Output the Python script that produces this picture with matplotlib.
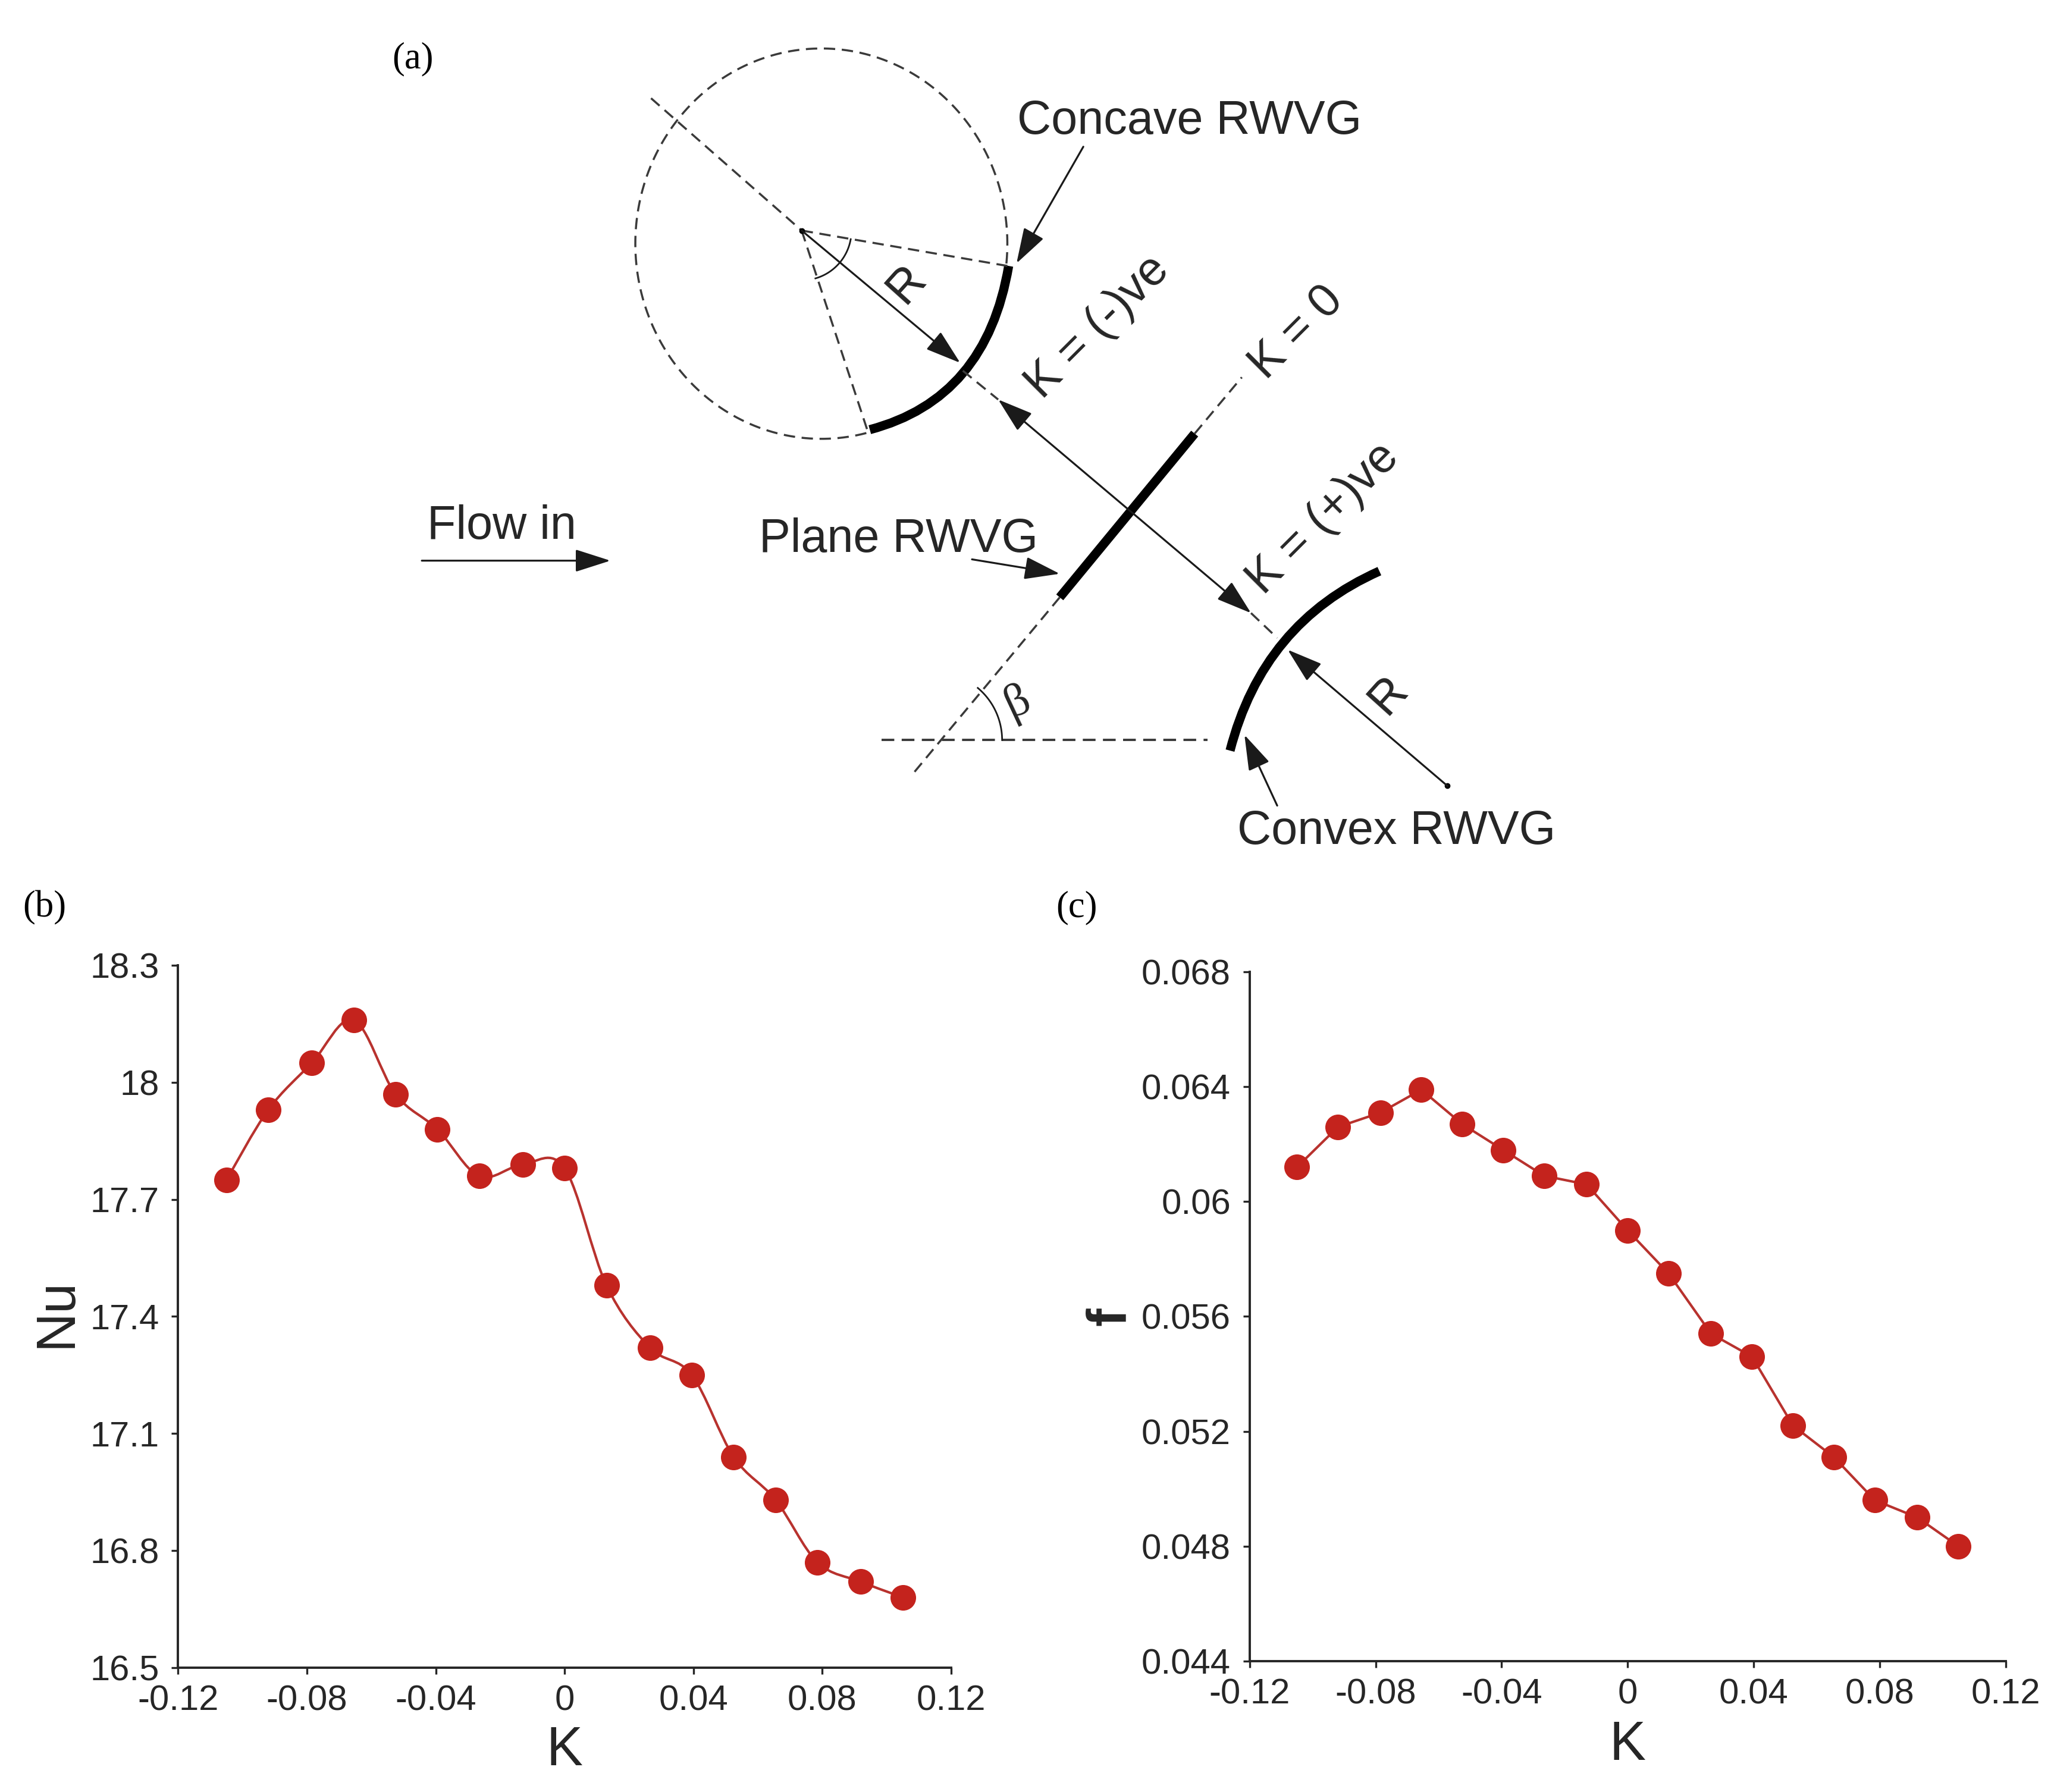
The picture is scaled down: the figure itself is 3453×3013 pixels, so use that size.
import numpy as np
import matplotlib
matplotlib.use("Agg")
from matplotlib import pyplot as plt
from matplotlib.path import Path
from matplotlib.patches import PathPatch

plt.rcParams['font.family'] = ['Liberation Sans', 'DejaVu Sans']

k_values = [-0.105, -0.092, -0.0785, -0.0655, -0.0525, -0.0395, -0.0265, -0.013, 0,
            0.013, 0.0265, 0.0395, 0.0525, 0.0655, 0.0785, 0.092, 0.105]
nu_values = [17.75, 17.93, 18.05, 18.16, 17.97, 17.88, 17.76, 17.79, 17.78,
             17.48, 17.32, 17.25, 17.04, 16.93, 16.77, 16.72, 16.68]
f_values = [0.0612, 0.0626, 0.0631, 0.0639, 0.0627, 0.0618, 0.0609, 0.0606, 0.0590,
            0.0575, 0.0554, 0.0546, 0.0522, 0.0511, 0.0496, 0.0490, 0.0480]
k_ticks = [-0.12, -0.08, -0.04, 0, 0.04, 0.08, 0.12]
k_labels = ["-0.12", "-0.08", "-0.04", "0", "0.04", "0.08", "0.12"]
nu_ticks = [16.5, 16.8, 17.1, 17.4, 17.7, 18, 18.3]
nu_labels = ["16.5", "16.8", "17.1", "17.4", "17.7", "18", "18.3"]
f_ticks = [0.044, 0.048, 0.052, 0.056, 0.06, 0.064, 0.068]
f_labels = ["0.044", "0.048", "0.052", "0.056", "0.06", "0.064", "0.068"]

RED = "#c4231d"
LINE_RED = "#b8322e"
INK = "#262626"
W, H = 1568, 1368  # layout grid for the schematic and panel placement

fig = plt.figure(figsize=(3453 / 100, 3013 / 100), dpi=100, facecolor="white")


def make_axes(left, right, top, bottom):
    return fig.add_axes([left / W, 1 - bottom / H, (right - left) / W, (bottom - top) / H])


def smooth_path(x, y):
    # catmull-rom through the measured points, as bezier segments
    x = np.array(x, dtype=float)
    y = np.array(y, dtype=float)
    verts = [(x[0], y[0])]
    codes = [Path.MOVETO]
    for i in range(len(x) - 1):
        a = max(i - 1, 0)
        b = min(i + 2, len(x) - 1)
        verts.append((x[i] + (x[i + 1] - x[a]) / 6, y[i] + (y[i + 1] - y[a]) / 6))
        verts.append((x[i + 1] - (x[b] - x[i]) / 6, y[i + 1] - (y[b] - y[i]) / 6))
        verts.append((x[i + 1], y[i + 1]))
        codes += [Path.CURVE4, Path.CURVE4, Path.CURVE4]
    return Path(verts, codes)


def draw_panel(ax, values, yticks, ylabels, ylabel, ylabel_xy, xlabel_y, smooth, weight="normal"):
    if smooth:
        ax.add_patch(PathPatch(smooth_path(k_values, values), fill=False, ec=LINE_RED, lw=3.0, zorder=2))
    else:
        ax.plot(k_values, values, color=LINE_RED, lw=3.0, zorder=2)
    ax.plot(k_values, values, ls="none", marker="o", ms=31, color=RED, mew=0, zorder=3)
    ax.set_xlim(k_ticks[0], k_ticks[-1])
    ax.set_ylim(yticks[0], yticks[-1])
    ax.set_xticks(k_ticks)
    ax.set_xticklabels(k_labels)
    ax.set_yticks(yticks)
    ax.set_yticklabels(ylabels)
    ax.spines["top"].set_visible(False)
    ax.spines["right"].set_visible(False)
    ax.spines["left"].set_linewidth(2.8)
    ax.spines["bottom"].set_linewidth(2.8)
    ax.spines["left"].set_color(INK)
    ax.spines["bottom"].set_color(INK)
    ax.tick_params(axis="x", length=8, width=2.4, pad=13, labelsize=43, labelcolor=INK, color=INK)
    ax.tick_params(axis="y", length=8, width=2.4, pad=15, labelsize=43, labelcolor=INK, color=INK)
    ax.set_xlabel("K", fontsize=66, color=INK, va="center")
    ax.xaxis.set_label_coords(0.5, xlabel_y)
    ax.set_ylabel(ylabel, fontsize=66, color=INK, va="center", fontweight=weight)
    ax.yaxis.set_label_coords(*ylabel_xy)


ax_nu = make_axes(136, 726, 737, 1273)
draw_panel(ax_nu, nu_values, nu_ticks, nu_labels, "Nu", (-0.157, 0.505), -0.119, True)
ax_f = make_axes(954, 1531, 742, 1268)
draw_panel(ax_f, f_values, f_ticks, f_labels, "f", (-0.184, 0.5), -0.123, False, "bold")

# schematic (a) plus the panel letters, on a pixel-like grid
sk = fig.add_axes([0, 0, 1, 1], facecolor="none")
sk.set_xlim(0, W)
sk.set_ylim(H, 0)
sk.axis("off")

DASH = (0, (5.5, 3.2))
DASH_COLOR = "#3a3a3a"


def dashed(p0, p1, lw=2.5):
    sk.plot([p0[0], p1[0]], [p0[1], p1[1]], color=DASH_COLOR, lw=lw, ls=DASH)


def arrow(p0, p1, style="-|>"):
    sk.annotate("", xy=p1, xytext=p0,
                arrowprops=dict(arrowstyle=style + ",head_length=1,head_width=0.32",
                                mutation_scale=37, lw=2.3, color="#1a1a1a",
                                shrinkA=0, shrinkB=0))


def thick_curve(p0, mid, p1):
    ctrl = (2 * mid[0] - (p0[0] + p1[0]) / 2, 2 * mid[1] - (p0[1] + p1[1]) / 2)
    sk.add_patch(PathPatch(Path([p0, ctrl, p1], [Path.MOVETO, Path.CURVE3, Path.CURVE3]),
                           fill=False, ec="black", lw=11, capstyle="butt"))


# dashed circle, open where the concave guide sits
theta = np.radians(np.linspace(76, 367, 200))
sk.plot(627 + 142 * np.cos(theta), 186 + 149 * np.sin(theta), color=DASH_COLOR, lw=2.5, ls=DASH)

# concave
thick_curve((770, 203), (735, 285), (664, 328))
dashed((497, 75), (612, 176))
dashed((612, 176), (769, 203))
dashed((612, 176), (662, 328))
dashed((735, 283), (762, 305))
sk.plot([612], [176], marker="o", ms=6, color="black")
arrow((612, 176), (733, 277))
ang = np.radians(np.linspace(10, 74, 30))
sk.plot(612 + 38 * np.cos(ang), 176 + 38 * np.sin(ang), color="#1a1a1a", lw=2.0)

# plane
sk.plot([809, 912], [456, 331], color="black", lw=11, solid_capstyle="butt")
dashed((912, 331), (948, 288))
dashed((809, 456), (695, 593))
arrow((955, 468), (762, 305), "<|-|>")
dashed((955, 468), (975, 487))

# convex
thick_curve((1053, 436), (980, 490), (939, 573))
arrow((1105, 600), (983, 496))
sk.plot([1105], [600], marker="o", ms=6, color="black")

# beta
dashed((673, 565), (922, 565), lw=2.8)
ang = np.radians(np.linspace(-50, 0, 30))
sk.plot(713 + 52 * np.cos(ang), 565 + 52 * np.sin(ang), color="#1a1a1a", lw=2.0)

# callouts
arrow((827, 112), (776, 201))
arrow((742, 427), (809, 438))
arrow((975, 615), (950, 561))
arrow((322, 428), (466, 428))

TXT = dict(color=INK, ha="center", va="center", fontsize=57)
sk.text(908, 93, "Concave RWVG", **TXT)
sk.text(686, 412, "Plane RWVG", **TXT)
sk.text(383, 402, "Flow in", **TXT)
sk.text(1066, 635, "Convex RWVG", **TXT)
sk.text(990, 254, "K = 0", rotation=45, rotation_mode="anchor", **TXT)
sk.text(838, 250, "K = (-)ve", rotation=45, rotation_mode="anchor", **TXT)
sk.text(1010, 396, "K = (+)ve", rotation=45, rotation_mode="anchor", **TXT)
sk.text(692, 217, "R", rotation=48, rotation_mode="anchor", **TXT)
sk.text(1060, 531, "R", rotation=48, rotation_mode="anchor", **TXT)
sk.text(777, 536, "\u03b2", rotation=25, rotation_mode="anchor",
        family=["Liberation Serif", "DejaVu Serif"], **TXT)

SERIF = dict(family=["Liberation Serif", "DejaVu Serif"], fontsize=45, color="black",
             ha="center", va="center")
sk.text(315, 45, "(a)", **SERIF)
sk.text(34, 693, "(b)", **SERIF)
sk.text(822, 693, "(c)", **SERIF)

fig.savefig("out.png", dpi=100)
